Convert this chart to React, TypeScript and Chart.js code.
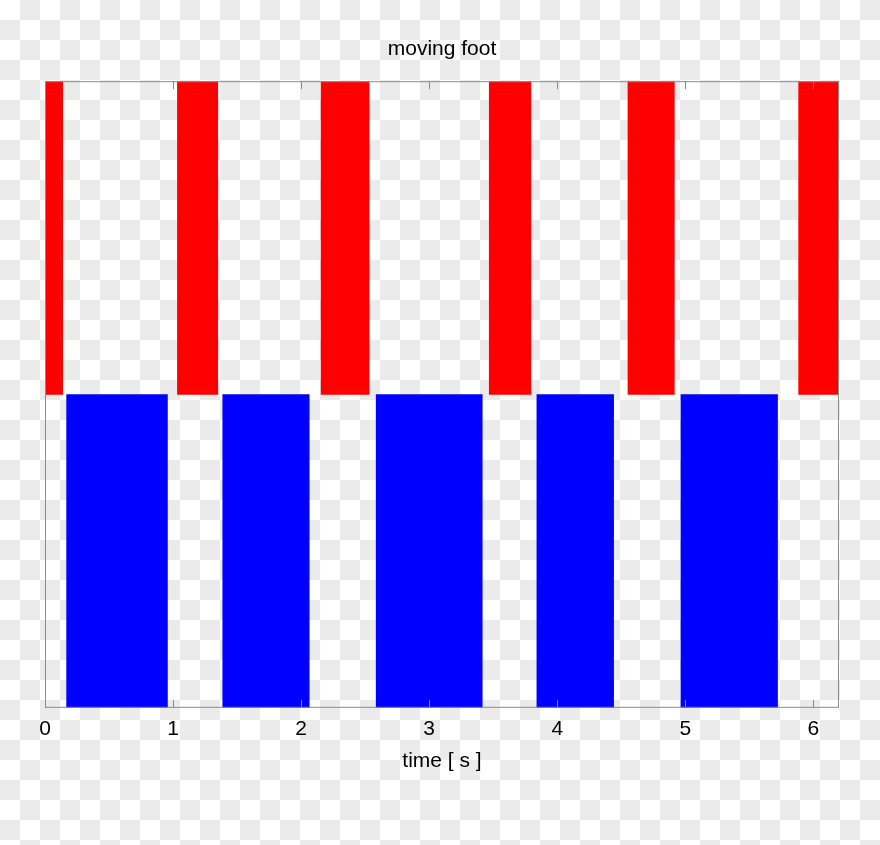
import { useEffect, useRef } from 'react';
import { Chart, registerables } from 'chart.js';

Chart.register(...registerables);

// rows of the chart (top = red, bottom = blue)
const rowLabels = ['red', 'blue'];

// red intervals, seconds
const redStarts = [0, 1.034, 2.156, 3.469, 4.552, 5.885];
const redEnds = [0.138, 1.349, 2.531, 3.794, 4.914, 6.2];

// blue intervals, seconds
const blueStarts = [0.169, 1.388, 2.586, 3.841, 4.966];
const blueEnds = [0.956, 2.063, 3.414, 4.44, 5.72];

const xTickValues = [0, 1, 2, 3, 4, 5, 6];
const xMin = 0;
const xMax = 6.2;

const FONT = '"Liberation Sans", Arial, sans-serif';
const AXIS_GRAY = '#8a8a8a';

// frame around the plot + short inward ticks on top and bottom
const framePlugin = {
  id: 'frame',
  afterDatasetsDraw(chart: Chart) {
    const { ctx, chartArea } = chart;
    const { left, right, top, bottom } = chartArea;
    const x = chart.scales.x;
    ctx.save();
    ctx.strokeStyle = AXIS_GRAY;
    ctx.lineWidth = 1;
    ctx.strokeRect(left + 0.5, top + 0.5, right - left - 1, bottom - top - 1);
    ctx.beginPath();
    x.ticks.forEach((t) => {
      const px = Math.round(x.getPixelForValue(t.value)) + 0.5;
      ctx.moveTo(px, bottom);
      ctx.lineTo(px, bottom - 8);
      ctx.moveTo(px, top);
      ctx.lineTo(px, top + 8);
    });
    ctx.stroke();
    ctx.restore();
  },
};

export default function App() {
  const canvasRef = useRef<HTMLCanvasElement>(null);
  const chartRef = useRef<Chart | null>(null);

  useEffect(() => {
    if (!canvasRef.current) return;
    chartRef.current?.destroy();

    const redData = redStarts.map((s, i) => ({ x: [s, redEnds[i]], y: rowLabels[0] }));
    const blueData = blueStarts.map((s, i) => ({ x: [s, blueEnds[i]], y: rowLabels[1] }));

    chartRef.current = new Chart(canvasRef.current, {
      type: 'bar',
      data: {
        labels: rowLabels,
        datasets: [
          {
            data: redData as any,
            backgroundColor: '#ff0000',
            borderWidth: 0,
            barPercentage: 1,
            categoryPercentage: 1,
            grouped: false,
          },
          {
            data: blueData as any,
            backgroundColor: '#0000ff',
            borderWidth: 0,
            barPercentage: 1,
            categoryPercentage: 1,
            grouped: false,
          },
        ],
      },
      options: {
        indexAxis: 'y',
        animation: false,
        responsive: true,
        maintainAspectRatio: false,
        layout: { padding: { left: 45, right: 41, top: 0, bottom: 73 } },
        scales: {
          x: {
            type: 'linear',
            min: xMin,
            max: xMax,
            afterBuildTicks: (scale) => {
              scale.ticks = xTickValues.map((v) => ({ value: v }));
            },
            grid: { display: false, drawTicks: false },
            border: { display: false },
            ticks: {
              padding: 9,
              color: '#000',
              font: { family: FONT, size: 21 },
            },
            title: {
              display: true,
              text: 'time [ s ]',
              color: '#000',
              font: { family: FONT, size: 21, lineHeight: 1 },
              padding: { top: 0, bottom: 0 },
            },
          },
          y: {
            type: 'category',
            display: false,
          },
        },
        plugins: {
          legend: { display: false },
          tooltip: { enabled: false },
          title: {
            display: true,
            text: 'moving foot',
            color: '#000',
            font: { family: FONT, size: 21, weight: 'normal' },
            padding: { top: 37, bottom: 19 },
          },
        },
      },
      plugins: [framePlugin],
    });

    return () => {
      chartRef.current?.destroy();
    };
  }, []);

  return (
    <div
      style={{
        position: 'absolute',
        left: 0,
        top: 0,
        width: 880,
        height: 845,
        backgroundColor: '#fff',
        backgroundImage: 'conic-gradient(#ebebeb 0 25%, #fff 0 50%, #ebebeb 0 75%, #fff 0)',
        backgroundSize: '40px 40px',
      }}
    >
      <canvas ref={canvasRef} />
    </div>
  );
}
